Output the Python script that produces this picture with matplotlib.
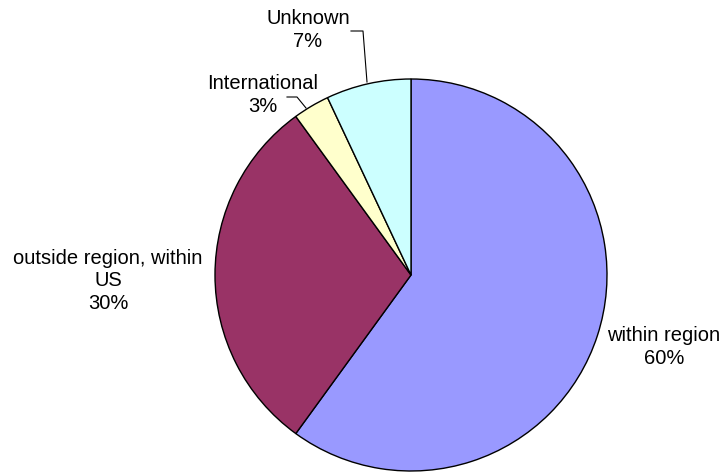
import matplotlib.pyplot as plt

# ==========================================================
# Share of respondents by location
# ==========================================================

categories = ["within region", "outside region, within\nUS", "International", "Unknown"]
shares = [60, 30, 3, 7]
colors = ["#9999FF", "#993366", "#FFFFCC", "#CCFFFF"]

W, H = 727, 477

plt.rcParams['font.family'] = ['Liberation Sans', 'DejaVu Sans']

fig = plt.figure(figsize=(W / 100, H / 100), dpi=100)
ax = fig.add_axes([0, 0, 1, 1])

# pie in pixel space, starting at 12 o'clock and going clockwise
cx, cy, r = 411, H - 276, 196
wedges, _ = ax.pie(
    shares,
    colors=colors,
    startangle=90,
    counterclock=False,
    center=(cx, cy),
    radius=r,
    frame=True,
    wedgeprops=dict(edgecolor="black", linewidth=1.0),
)
ax.set_xlim(0, W)
ax.set_ylim(0, H)
ax.set_aspect('auto')
ax.axis('off')

# labels (pixel positions measured from the top)
label_pos = [(664, 347), (108, 281), (263, 95), (308, 30)]
for name, val, (x, y) in zip(categories, shares, label_pos):
    ax.text(x, H - y, f"{name}\n{val}%", ha="center", va="center",
            fontsize=14.5, linespacing=1.25, color="black")

# leader lines for the two small slices
ax.plot([287, 297, 306], [H - 98, H - 98, H - 109], color="black", lw=0.8)
ax.plot([351, 363, 367], [H - 32, H - 32, H - 83], color="black", lw=0.8)

fig.savefig("out.png", dpi=100)
